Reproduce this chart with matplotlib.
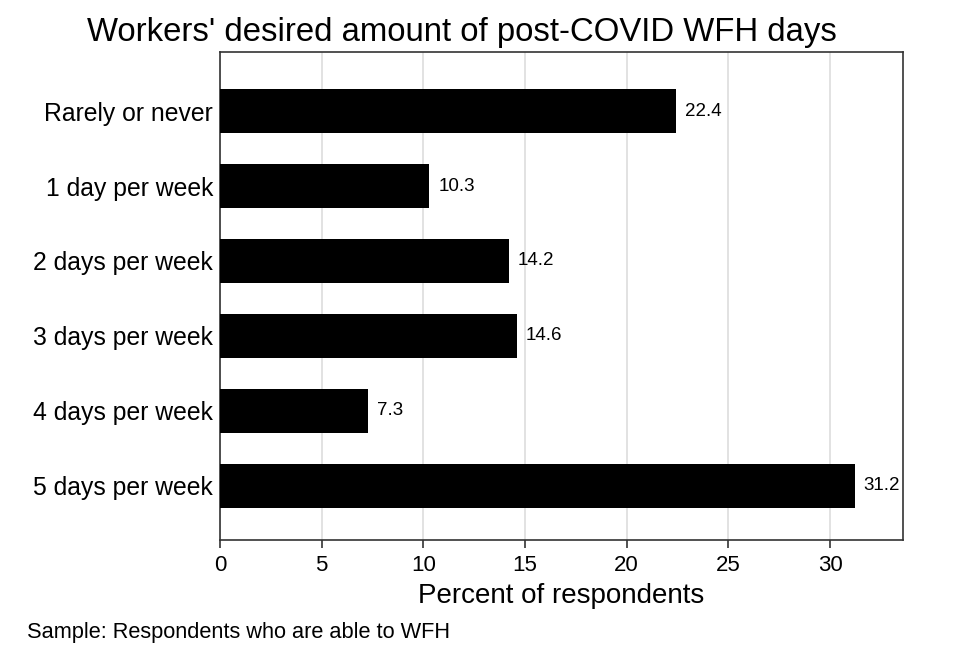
import matplotlib.pyplot as plt

categories = ["Rarely or never", "1 day per week", "2 days per week",
              "3 days per week", "4 days per week", "5 days per week"]
percents = [22.4, 10.3, 14.2, 14.6, 7.3, 31.2]
xticks = [0, 5, 10, 15, 20, 25, 30]

plt.rcParams["font.family"] = ["Liberation Sans", "DejaVu Sans"]

fig = plt.figure(figsize=(9.6, 6.48), dpi=100)
ax = fig.add_axes([0.229, 0.167, 0.712, 0.753])

pos = list(range(len(categories)))
ax.barh(pos, percents, height=0.59, color="black", zorder=3)
for p, v in zip(pos, percents):
    ax.text(v + 0.45, p, f"{v:.1f}", va="center", ha="left", fontsize=13.5)

ax.set_xlim(0, 33.6)
ax.set_ylim(5.72, -0.79)
ax.set_xticks(xticks)
ax.set_yticks(pos)
ax.set_yticklabels(categories)
ax.tick_params(axis="y", length=0, pad=5, labelsize=17.8)
ax.tick_params(axis="x", length=6, width=1.2, color="#333333", labelsize=16, pad=5)
ax.grid(axis="x", color="#dddddd", linewidth=1.2, zorder=0)
for s in ax.spines.values():
    s.set_color("#333333")
    s.set_linewidth(1.2)

ax.set_xlabel("Percent of respondents", fontsize=20, labelpad=5)
fig.suptitle("Workers' desired amount of post-COVID WFH days", fontsize=23.7,
             x=0.481, y=0.974)
fig.text(0.028, 0.016, "Sample: Respondents who are able to WFH", fontsize=15.7)

fig.savefig("out.png", dpi=100)
